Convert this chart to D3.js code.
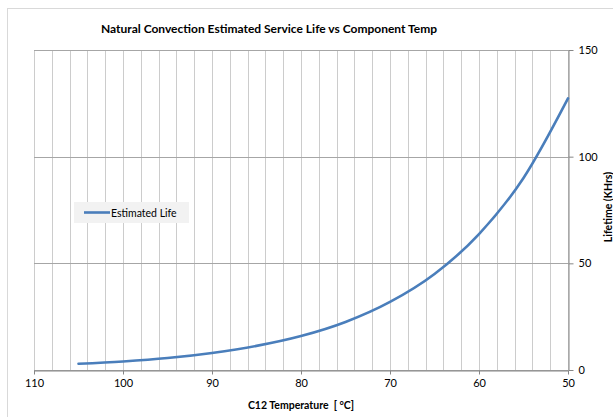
<!DOCTYPE html>
<html><head><meta charset="utf-8">
<script src="https://cdn.jsdelivr.net/npm/d3@7"></script>
<style>
html,body{margin:0;padding:0;background:#fff;}
svg{display:block;font-family:Lato,"Open Sans",sans-serif;}
text{white-space:pre;}
</style></head>
<body><svg id="c" width="613" height="417"></svg>
<script>
const temps = [105, 100, 95, 90, 85, 80, 75, 70, 65, 60, 55, 50];
const life  = [2.9, 4.0, 5.6, 8.0, 11.3, 15.9, 22.5, 31.9, 45.0, 63.7, 90.0, 127.3];
const xMajorTicks = [110, 100, 90, 80, 70, 60, 50];
const xGridTicks = d3.range(110, 49, -2);
const yTicks = [0, 50, 100, 150];
const seriesName = "Estimated Life";
const title = "Natural Convection Estimated Service Life vs Component Temp";
const xTitle = "C12 Temperature  [ \u00B0C]";
const yTitle = "Lifetime (KHrs)";

const svg = d3.select("#c");
const L = 34, R = 568, T = 50, B = 370;
const x = d3.scaleLinear().domain([110, 50]).range([L, R]);
const y = d3.scaleLinear().domain([0, 150]).range([B, T]);

// outer chart border
svg.append("rect").attr("x", 7.5).attr("y", 8.5).attr("width", 700).attr("height", 500)
  .attr("fill", "none").attr("stroke", "#d9d9d9");

// vertical gridlines
svg.append("g").selectAll("line").data(xGridTicks).join("line")
  .attr("x1", d => Math.round(x(d)) + 0.5).attr("x2", d => Math.round(x(d)) + 0.5)
  .attr("y1", T).attr("y2", B).attr("stroke", "#cccccc").attr("stroke-width", 1);

// horizontal gridlines
svg.append("g").selectAll("line").data(yTicks).join("line")
  .attr("x1", L).attr("x2", R)
  .attr("y1", d => Math.round(y(d)) + 0.5).attr("y2", d => Math.round(y(d)) + 0.5)
  .attr("stroke", "#a6a6a6").attr("stroke-width", 1);

// x axis
const xAxis = svg.append("g").attr("transform", `translate(0,${B + 0.5})`)
  .call(d3.axisBottom(x).tickValues(xMajorTicks).tickSize(4).tickSizeOuter(0).tickPadding(5));
xAxis.select(".domain").attr("stroke", "#868686");
xAxis.selectAll(".tick line").attr("stroke", "#868686");
xAxis.selectAll("text").attr("font-size", "11px").attr("fill", "#000")
  .attr("font-family", "Lato,sans-serif");

// y axis (right)
const yAxis = svg.append("g").attr("transform", `translate(${R + 0.5},0)`)
  .call(d3.axisRight(y).tickValues(yTicks).tickSize(5).tickSizeOuter(0).tickPadding(5));
yAxis.select(".domain").attr("stroke", "#868686");
yAxis.selectAll(".tick line").attr("stroke", "#868686");
yAxis.selectAll("text").attr("font-size", "11px").attr("fill", "#000")
  .attr("font-family", "Lato,sans-serif");

// line
const data = temps.map((t, i) => ({t, v: life[i]}));
svg.append("path").datum(data)
  .attr("d", d3.line().x(d => x(d.t)).y(d => y(d.v)).curve(d3.curveMonotoneX))
  .attr("fill", "none").attr("stroke", "#4a7ebb").attr("stroke-width", 2.6)
  .attr("stroke-linecap", "round");

// title
svg.append("text").attr("x", 269).attr("y", 33).attr("text-anchor", "middle")
  .attr("font-size", "12px").attr("font-weight", "bold").text(title);

// x title
svg.append("text").attr("x", 301).attr("y", 409).attr("text-anchor", "middle")
  .attr("font-size", "10.5px").attr("font-weight", "bold").text(xTitle);

// y title
svg.append("text").attr("transform", `translate(609,207) rotate(-90)`)
  .attr("text-anchor", "middle").attr("dominant-baseline", "middle")
  .attr("font-size", "10.5px").attr("font-weight", "bold").text(yTitle);

// legend
const lg = svg.append("g");
lg.append("rect").attr("x", 74).attr("y", 202).attr("width", 115).attr("height", 21)
  .attr("fill", "#f2f2f2");
lg.append("line").attr("x1", 84).attr("x2", 110).attr("y1", 212.5).attr("y2", 212.5)
  .attr("stroke", "#4a7ebb").attr("stroke-width", 2.6);
lg.append("text").attr("x", 111).attr("y", 216.5).attr("font-size", "10.5px")
  .text(seriesName);
</script></body></html>
